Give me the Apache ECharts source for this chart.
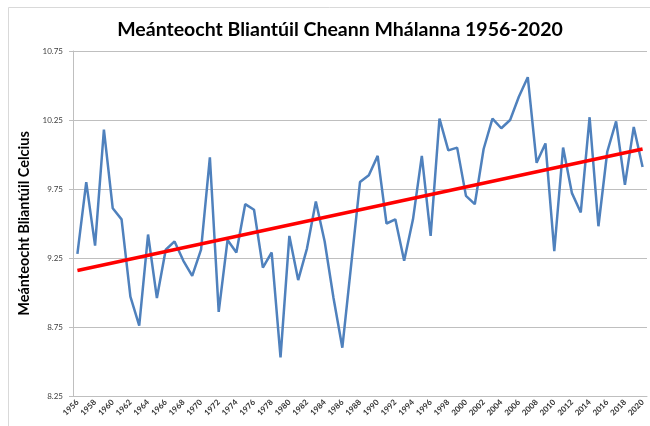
<!DOCTYPE html>
<html>
<head>
<meta charset="utf-8">
<title>Meánteocht Bliantúil Cheann Mhálanna 1956-2020</title>
<script src="https://cdn.jsdelivr.net/npm/echarts@6/dist/echarts.min.js"></script>
<style>
  html, body { margin: 0; padding: 0; background: #fff; }
  #main { width: 650px; height: 426px; }
</style>
</head>
<body>
<div id="main"></div>
<script>
// blianta
var years = [
  '1956','1957','1958','1959','1960','1961','1962','1963','1964','1965',
  '1966','1967','1968','1969','1970','1971','1972','1973','1974','1975',
  '1976','1977','1978','1979','1980','1981','1982','1983','1984','1985',
  '1986','1987','1988','1989','1990','1991','1992','1993','1994','1995',
  '1996','1997','1998','1999','2000','2001','2002','2003','2004','2005',
  '2006','2007','2008','2009','2010','2011','2012','2013','2014','2015',
  '2016','2017','2018','2019','2020'
];
// meánteocht bhliantúil
var temps = [
  9.28, 9.80, 9.34, 10.18, 9.61, 9.53, 8.97, 8.76, 9.42, 8.96,
  9.31, 9.37, 9.23, 9.12, 9.31, 9.98, 8.86, 9.38, 9.29, 9.64,
  9.60, 9.18, 9.29, 8.53, 9.41, 9.09, 9.32, 9.66, 9.37, 8.96,
  8.60, 9.20, 9.80, 9.85, 9.99, 9.50, 9.53, 9.23, 9.53, 9.99,
  9.41, 10.26, 10.03, 10.05, 9.70, 9.64, 10.04, 10.26, 10.19, 10.25,
  10.42, 10.56, 9.94, 10.08, 9.30, 10.05, 9.72, 9.58, 10.27, 9.48,
  10.02, 10.24, 9.78, 10.20, 9.91
];
// trend line ends (1956, 2020)
var trendEnds = [9.16, 10.04];
// y tick labels
var yTicks = [8.25, 8.75, 9.25, 9.75, 10.25, 10.75];

var chart = echarts.init(document.getElementById('main'));

/**
 * build options
 */
function getOptions(){
  var trendData = [
    [years[0], trendEnds[0]],
    [years[years.length - 1], trendEnds[1]]
  ];
  var options = {
    animation: false,
    backgroundColor: '#fff',
    title: {
      text: 'Meánteocht Bliantúil Cheann Mhálanna 1956-2020',
      left: 335,
      textAlign: 'center',
      top: 15,
      textStyle: {
        fontFamily: 'Lato',
        fontWeight: 'bold',
        fontSize: 19.5,
        color: '#000'
      }
    },
    graphic: [{
      type: 'rect',
      shape: { x: 8.5, y: 7.5, width: 700, height: 450 },
      style: { fill: 'none', stroke: '#d9d9d9', lineWidth: 1 },
      silent: true
    }],
    grid: { left: 73, right: 3, top: 51, bottom: 30, containLabel: false },
    xAxis: {
      type: 'category',
      data: years,
      boundaryGap: true,
      axisLine: { lineStyle: { color: '#bfbfbf', width: 1 } },
      axisTick: { show: false },
      axisLabel: {
        interval: 1,
        rotate: 45,
        margin: 5,
        fontFamily: 'Lato',
        fontWeight: 'bold',
        fontSize: 8,
        color: '#333'
      },
      splitLine: { show: false }
    },
    yAxis: {
      type: 'value',
      min: 8.25,
      max: 10.75,
      name: 'Meánteocht Bliantúil Celcius',
      nameLocation: 'middle',
      nameRotate: 90,
      nameGap: 38,
      nameTextStyle: {
        fontFamily: 'Lato',
        fontWeight: 'bold',
        fontSize: 14.5,
        color: '#000'
      },
      axisLine: { show: true, lineStyle: { color: '#bfbfbf', width: 1 } },
      axisTick: { show: true, length: 4, customValues: yTicks, lineStyle: { color: '#bfbfbf' } },
      axisLabel: {
        customValues: yTicks,
        margin: 10,
        fontFamily: 'Lato',
        fontSize: 8,
        color: '#404040',
        formatter: function(v){ return v.toFixed(2); }
      },
      splitLine: { show: true, lineStyle: { color: '#bfbfbf', width: 1 } }
    },
    series: [
      {
        name: 'Meánteocht',
        type: 'line',
        data: temps,
        symbol: 'none',
        lineStyle: { color: '#4f81bd', width: 2.5 },
        z: 2
      },
      {
        name: 'Treocht',
        type: 'line',
        data: trendData,
        symbol: 'none',
        lineStyle: { color: '#ff0000', width: 3.5 },
        z: 3
      }
    ]
  };
  return options;
}

chart.setOption(getOptions());
</script>
</body>
</html>
